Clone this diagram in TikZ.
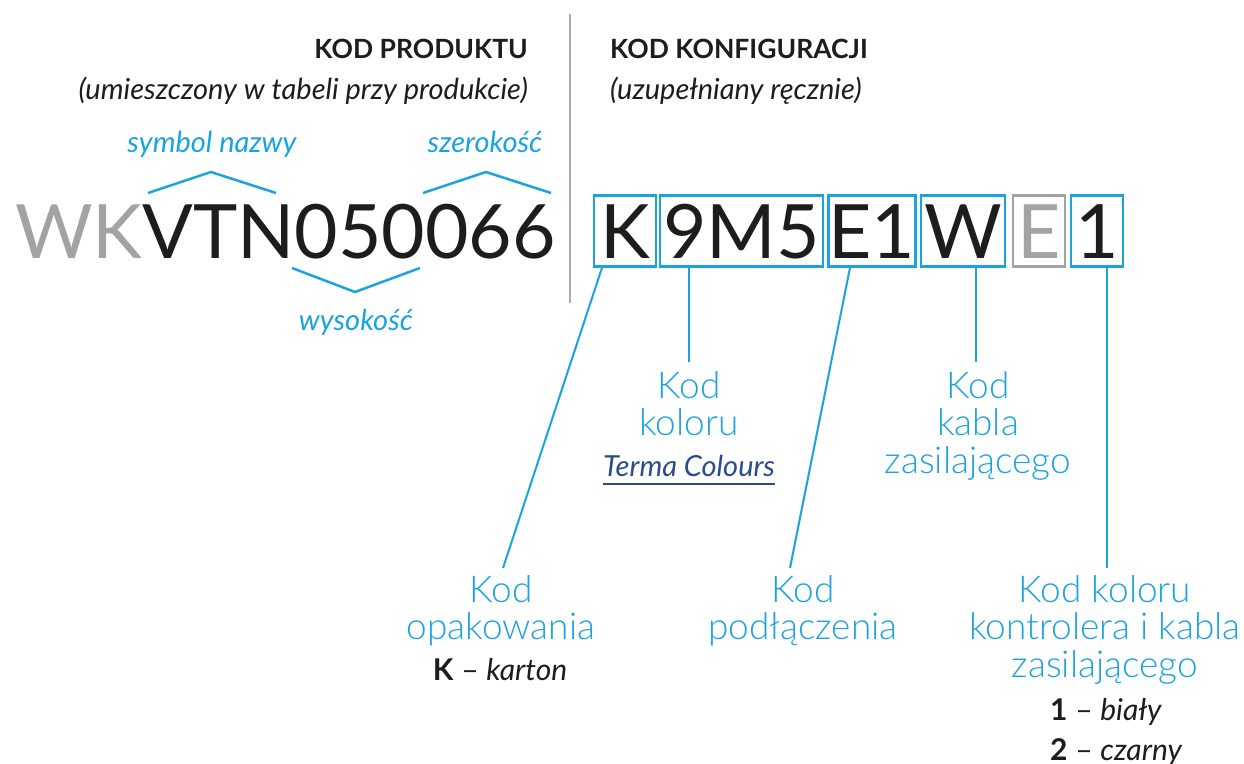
\documentclass[tikz,border=0pt]{standalone}
\usepackage{fontspec}
\setmainfont{Lato}
\newfontfamily\lightfont{Lato Light}
\definecolor{tblue}{HTML}{1AA3E0}
\definecolor{ink}{HTML}{1D1D1B}
\definecolor{lgray}{HTML}{A3A3A3}
\definecolor{sepgray}{HTML}{ABABAB}
\definecolor{tdark}{HTML}{2B4C8C}
\begin{document}
\begin{tikzpicture}[x=1pt,y=-1pt,
  head/.style={font=\bfseries\fontsize{26.5}{30}\selectfont, text=ink, inner sep=0pt},
  sub/.style={font=\itshape\fontsize{29}{32}\selectfont, text=ink, inner sep=0pt},
  blab/.style={font=\itshape\fontsize{29}{32}\selectfont, text=tblue, inner sep=0pt, anchor=base},
  big/.style={font=\fontsize{75}{80}\selectfont, text=ink, inner sep=0pt},
  cbox/.style={draw=tblue, line width=2.5pt, font=\fontsize{75}{80}\selectfont, text=ink,
     text height=54pt, text depth=0pt, inner xsep=0pt, inner ysep=8.5pt, anchor=base},
  lab/.style={font=\lightfont\fontsize{37}{37.5}\selectfont, text=tblue, align=center, inner sep=0pt, anchor=north},
  note/.style={font=\fontsize{30}{33}\selectfont, text=ink, inner sep=0pt},
  conn/.style={draw=tblue, line width=2pt},
  brace/.style={draw=tblue, line width=2.5pt},
  sepline/.style={draw=sepgray, line width=2.5pt}]
\useasboundingbox (0,0) rectangle (1244,763);

% headers
\node[head, anchor=base east] (kp) at (528,58) {KOD PRODUKTU};
\node[sub, anchor=base east] (kpsub) at (528,99) {(umieszczony w tabeli przy produkcie)};
\node[head, anchor=base west] (kk) at (610,58) {KOD KONFIGURACJI};
\node[sub, anchor=base west] (kksub) at (610,99) {(uzupełniany ręcznie)};

% separator
\draw[sepline] (570,14) -- (570,303);

% product code
\node[big, anchor=base west] (code) at (15,258) {\textcolor{lgray}{WK}VTN050066};
\node[blab] (sym) at (212,152) {symbol nazwy};
\node[blab] (szer) at (485,152) {szerokość};
\node[blab] (wys) at (356,330) {wysokość};
\draw[brace] (148,193) -- (211,172) -- (276,193);
\draw[brace] (423,193) -- (486,172) -- (551,193);
\draw[brace] (292,268) -- (355,292) -- (420,268);

% configuration boxes
\node[cbox, minimum width=62pt] (b1) at (625,258) {K};
\node[cbox, minimum width=163pt] (b2) at (741.5,258) {9M5};
\node[cbox, minimum width=86pt] (b3) at (872,258) {E1};
\node[cbox, minimum width=84pt] (b4) at (963,258) {W};
\node[cbox, minimum width=52pt, draw=lgray, text=lgray] (b5) at (1039,258) {E};
\node[cbox, minimum width=52pt] (b6) at (1097,258) {1};

% labels
\node[lab] (l1) at (501,575) {Kod\\opakowania};
\node[lab] (l2) at (689,371) {Kod\\koloru};
\node[lab] (l3) at (803,575) {Kod\\podłączenia};
\node[lab] (l4) at (978,371) {Kod\\kabla\\zasilającego};
\node[lab] (l5) at (1105,575) {Kod koloru\\kontrolera i kabla\\zasilającego};

\node[sub, text=tdark, anchor=base] (tc) at (689,476) {Terma Colours};
\draw[tdark, line width=1.2pt] ([yshift=-8pt]tc.base west) -- ([yshift=-8pt]tc.base east);

\node[note, anchor=base] (kart) at (500,680) {\textbf{K} – \textit{karton}};
\node[note, anchor=base west] (c1) at (1050,720) {\textbf{1} – \textit{biały}};
\node[note, anchor=base west] (c2) at (1050,760) {\textbf{2} – \textit{czarny}};

% connectors
\draw[conn] ([xshift=-23pt]b1.south) -- ([xshift=2pt,yshift=7pt]l1.north);
\draw[conn] ([xshift=-52.5pt]b2.south) -- ([yshift=9pt]l2.north);
\draw[conn] ([xshift=-22pt]b3.south) -- ([xshift=-13pt,yshift=7pt]l3.north);
\draw[conn] ([xshift=13pt]b4.south) -- ([xshift=-2pt,yshift=9pt]l4.north);
\draw[conn] ([xshift=10pt]b6.south) -- ([xshift=2pt,yshift=7pt]l5.north);
\end{tikzpicture}
\end{document}
